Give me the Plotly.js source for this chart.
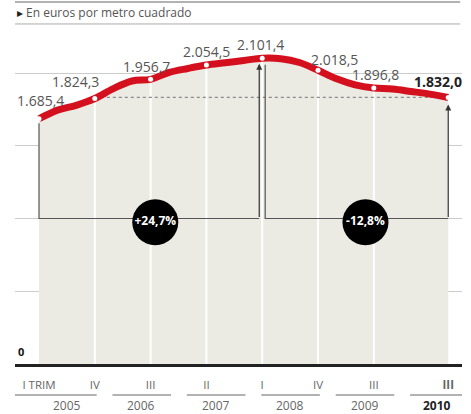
<!DOCTYPE html>
<html>
<head>
<meta charset="utf-8">
<script src="https://cdn.plot.ly/plotly-3.0.1.min.js"></script>
<style>html,body{margin:0;padding:0;background:#fff;}#chart{width:471px;height:414px;}</style>
</head>
<body>
<div id="chart"></div>
<script>
// ---- data (quarterly price, euros per m2) ----
const quarters = ['2005-I','2005-II','2005-III','2005-IV','2006-I','2006-II','2006-III','2006-IV',
  '2007-I','2007-II','2007-III','2007-IV','2008-I','2008-II','2008-III','2008-IV',
  '2009-I','2009-II','2009-III','2009-IV','2010-I','2010-II','2010-III'];
const prices = [1685.4, 1745, 1778, 1824.3, 1893, 1945, 1956.7, 2004, 2031, 2054.5, 2070, 2086,
  2101.4, 2098, 2072, 2018.5, 1960, 1918, 1896.8, 1890, 1873, 1855, 1832.0];
const labeledIdx = [0, 3, 6, 9, 12, 15, 18, 22];
const tickLabels = ['I TRIM', 'IV', 'III', 'II', 'I', 'IV', 'III', '<b>III</b>'];
const years = ['2005', '2006', '2007', '2008', '2009', '2010'];

// ---- helpers ----
const xs = quarters.map((q, i) => i);
const fmt = v => {
  const s = v.toFixed(1).split('.');
  return s[0].replace(/\B(?=(\d{3})+(?!\d))/g, '.') + ',' + s[1];
};
const FONT = 'Open Sans, Noto Sans, sans-serif';
const peakIdx = prices.indexOf(Math.max(...prices));
const lastIdx = prices.length - 1;
const base = 1000;
const pctUp = (prices[peakIdx] / prices[0] - 1) * 100;
const pctDown = (prices[lastIdx] / prices[peakIdx] - 1) * 100;
const pctStr = p => (p > 0 ? '+' : '') + p.toFixed(1).replace('.', ',') + '%';

// fill area
const fillTrace = {
  x: xs, y: prices, mode: 'lines', type: 'scatter',
  line: {width: 0, shape: 'spline', smoothing: 1, color: 'rgba(0,0,0,0)'},
  fill: 'tozeroy', fillcolor: '#ebebe3', hoverinfo: 'skip'
};
// white separators at labelled quarters
const wx = [], wy = [];
labeledIdx.slice(1, -1).forEach(i => { wx.push(i, i, null); wy.push(0, prices[i], null); });
const whiteTrace = {x: wx, y: wy, mode: 'lines', type: 'scatter', line: {color: '#ffffff', width: 2}, hoverinfo: 'skip'};
// dotted reference at last value
const dotTrace = {x: [labeledIdx[1], lastIdx], y: [prices[lastIdx], prices[lastIdx]], mode: 'lines', type: 'scatter',
  line: {color: '#8a8a8a', width: 1.2, dash: 'dot'}, hoverinfo: 'skip'};
// brackets
const xL = peakIdx - 0.16, xR = peakIdx + 0.16;
const brTrace = {
  x: [0, 0, xL, null, xR, xR, lastIdx],
  y: [prices[0] - 30, base, base, null, prices[peakIdx] - 45, base, base],
  mode: 'lines', type: 'scatter', line: {color: '#555', width: 1.2}, hoverinfo: 'skip'
};
// red line
const lineTrace = {x: xs, y: prices, mode: 'lines', type: 'scatter',
  line: {color: '#d4101f', width: 7, shape: 'spline', smoothing: 1}, hoverinfo: 'skip'};
const dotMarkers = {x: labeledIdx, y: labeledIdx.map(i => prices[i]), mode: 'markers', type: 'scatter',
  marker: {color: '#ffffff', size: 5, line: {width: 0}}, hoverinfo: 'skip'};
// circles
const circTrace = {
  x: [peakIdx / 2 + 0.25, (peakIdx + lastIdx) / 2 + 0.55], y: [975, 975],
  text: ['<b>' + pctStr(pctUp) + '</b>', '<b>' + pctStr(pctDown) + '</b>'],
  mode: 'markers+text', type: 'scatter', textposition: 'middle center',
  marker: {color: '#000', size: 46}, textfont: {family: FONT, size: 12, color: '#fff'}, hoverinfo: 'skip'
};

// value labels
const labelShift = [[1, 18], [-19, 17], [-4, 13], [0, 14], [-2, 14], [16, 11], [2, 14], [-10, 16]];
const annotations = labeledIdx.map((i, k) => ({
  x: i, y: prices[i], xref: 'x', yref: 'y', showarrow: false,
  text: k === labeledIdx.length - 1 ? '<b>' + fmt(prices[i]) + '</b>' : fmt(prices[i]),
  xshift: labelShift[k][0], yshift: labelShift[k][1],
  font: {family: FONT, size: 14, color: k === labeledIdx.length - 1 ? '#222' : '#555'}
}));
// arrows
annotations.push({x: xL, y: prices[peakIdx] - 38, ax: xL, ay: base, axref: 'x', ayref: 'y', xref: 'x', yref: 'y',
  text: '', showarrow: true, arrowhead: 2, arrowsize: 1, arrowwidth: 1.2, arrowcolor: '#333'});
annotations.push({x: lastIdx, y: prices[lastIdx] - 48, ax: lastIdx, ay: base, axref: 'x', ayref: 'y', xref: 'x', yref: 'y',
  text: '', showarrow: true, arrowhead: 2, arrowsize: 1, arrowwidth: 1.2, arrowcolor: '#333'});
// zero label
annotations.push({x: 0, y: 0, xref: 'paper', yref: 'y', xanchor: 'left', yanchor: 'bottom', showarrow: false,
  text: '<b>0</b>', xshift: 1, yshift: 3, font: {family: FONT, size: 11, color: '#111'}});
// header
annotations.push({x: 0, y: 1.0385, xref: 'paper', yref: 'paper', xanchor: 'left', yanchor: 'middle', showarrow: false,
  text: '<span style="color:#222">▸</span> En euros por metro cuadrado', font: {family: FONT, size: 12, color: '#555'}});

// years
const shapes = [
  {type: 'line', xref: 'paper', yref: 'paper', x0: 0, x1: 0.996, y0: 1.071, y1: 1.071, line: {color: '#999', width: 1.5}},
  {type: 'line', xref: 'paper', yref: 'paper', x0: 0, x1: 0.996, y0: 1.006, y1: 1.006, line: {color: '#aaa', width: 1}}
];
years.forEach((yr, i) => {
  const last = i === years.length - 1;
  annotations.push({x: 4 * i + (last ? 1.4 : 1.5), y: -0.124, xref: 'x', yref: 'paper', yanchor: 'middle', showarrow: false,
    text: last ? '<b>' + yr + '</b>' : yr, font: {family: FONT, size: 12, color: last ? '#222' : '#666'}});
  shapes.push({type: 'line', xref: 'x', yref: 'paper', x0: i === 0 ? -1.29 : 4 * i - 0.05,
    x1: last ? 22.74 : 4 * i + 3.1, y0: -0.0917, y1: -0.0917, line: {color: '#999', width: 1.5}});
});

const layout = {
  width: 471, height: 414,
  margin: {l: 15, r: 9, t: 26, b: 50},
  paper_bgcolor: '#fff', plot_bgcolor: '#fff',
  showlegend: false,
  xaxis: {range: [-1.29, 22.74], showgrid: false, zeroline: false, showline: true, linecolor: '#222', linewidth: 3,
    tickvals: labeledIdx, ticktext: tickLabels, ticks: '', ticklabelstandoff: 8,
    tickfont: {family: FONT, size: 11.5, color: '#666'}, fixedrange: true},
  yaxis: {range: [0, 2323], tickvals: [500, 1000, 1500, 2000], showticklabels: false, gridcolor: '#cccccc',
    gridwidth: 1, zeroline: false, showline: false, fixedrange: true},
  annotations: annotations, shapes: shapes
};

Plotly.newPlot('chart', [fillTrace, whiteTrace, dotTrace, brTrace, lineTrace, dotMarkers, circTrace], layout,
  {displayModeBar: false, staticPlot: true});
</script>
</body>
</html>
